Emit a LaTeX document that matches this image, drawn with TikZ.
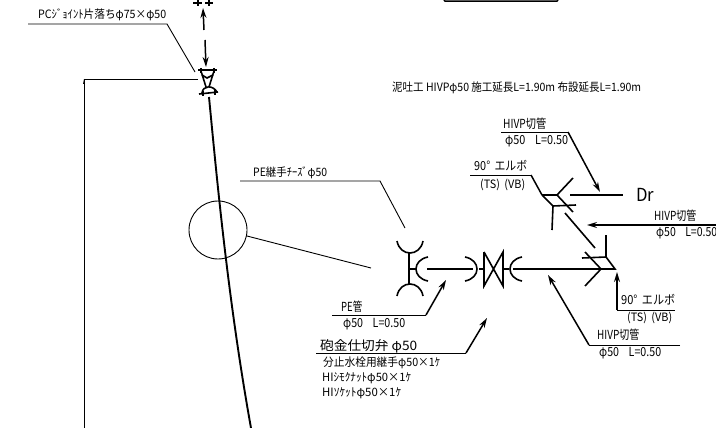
\documentclass[tikz,border=0pt]{standalone}
\usepackage{fontspec}
\usepackage{graphicx}
\setmainfont{Noto Sans CJK JP}
\usetikzlibrary{arrows.meta}
\newcommand{\fitw}[2]{\resizebox{#1pt}{\height}{#2}}
\newcommand{\gap}{\hspace{0.9em}}
\tikzset{
  lbl/.style={anchor=west,inner sep=0pt,font=\fontsize{12.5}{13}\selectfont},
  small/.style={anchor=west,inner sep=0pt,font=\fontsize{11.5}{12}\selectfont},
  thinl/.style={line width=0.9pt},
  pipe/.style={line width=1.6pt},
  arr/.style={line width=1.5pt,-{Stealth[length=10pt,width=6pt]}}
}
\begin{document}
\begin{tikzpicture}[x=1pt,y=-1pt]
\useasboundingbox (0,0) rectangle (716,428);
\fill[white] (0,0) rectangle (716,428);
% Labels
\node[small] (tjoint) at (38,15) {\fitw{128}{PCｼﾞｮｲﾝﾄ片落ちφ75×φ50}};
\node[small] (tpe) at (253,173) {\fitw{74}{PE継手ﾁｰｽﾞφ50}};
\node[small] (ttitle) at (392,88) {\fitw{249}{泥吐工 HIVPφ50 施工延長L=1.90m 布設延長L=1.90m}};
\node[lbl] (thv1) at (503,124) {\fitw{43}{HIVP切管}};
\node[lbl] (thv1b) at (505,141) {\fitw{63}{φ50\gap L=0.50}};
\node[lbl] (tel1) at (474,166) {\fitw{53}{90°\hspace{0.4em}エルボ}};
\node[small] (tel1b) at (480,184.5) {\fitw{45}{(TS)\hspace{0.4em}(VB)}};
\node[anchor=west,inner sep=0pt,font=\fontsize{18}{18}\selectfont] (tdr) at (636,195) {\fitw{18}{Dr}};
\node[lbl] (thv2) at (654,216) {\fitw{42}{HIVP切管}};
\node[lbl] (thv2b) at (656,233) {\fitw{61}{φ50\gap L=0.50}};
\node[lbl] (tel2) at (621,300) {\fitw{54}{90°\hspace{0.4em}エルボ}};
\node[small] (tel2b) at (627,318) {\fitw{45}{(TS)\hspace{0.4em}(VB)}};
\node[lbl] (thv3) at (597,335) {\fitw{42}{HIVP切管}};
\node[lbl] (thv3b) at (599,353) {\fitw{62}{φ50\gap L=0.50}};
\node[lbl] (tpipe) at (341,307) {\fitw{21}{PE管}};
\node[lbl] (tpipeb) at (343,324) {\fitw{62}{φ50\gap L=0.50}};
\node[anchor=west,inner sep=0pt,font=\fontsize{13}{13}\selectfont] (tval) at (320,346) {\fitw{97}{砲金仕切弁 φ50}};
\node[small] (ts1) at (323,363) {\fitw{117}{分止水栓用継手φ50×1ｹ}};
\node[small] (ts2) at (322,378) {\fitw{89}{HIｼﾓｸﾅｯﾄφ50×1ｹ}};
\node[small] (ts3) at (322,393) {\fitw{79}{HIｿｹｯﾄφ50×1ｹ}};
% Leader coordinates
\coordinate (a1) at (28,24); \coordinate (a2) at (167,24); \coordinate (a3) at (195,72);
\coordinate (b1) at (240,181); \coordinate (b2) at (380,181); \coordinate (b3) at (405,228);
% Thin leaders
\draw[thinl] (a1) -- (a2) -- (a3);
\draw[thinl] (b1) -- (b2) -- (b3);
\draw[thinl] (198,79) -- (84,79) -- (84,428);
\fill (84,79) -- (83,84) -- (85,84) -- cycle;
\draw[thinl] (218,230) circle (29);
\draw[thinl] (247,236) -- (371,268);
% Top box fragment
\draw[line width=1.4pt] (444,0) -- (445,1.2) -- (557,1.2) -- (558,0);
% Top fittings
\draw[pipe] (193,3) -- (202,3) (198,0) -- (198,6) (205,3) -- (213,3) (209,0) -- (209,6);
\draw[arr] (204,30) -- (203,8);
\draw[arr] (205,40) -- (206,67);
% Reducer
\draw[pipe] (198,70) -- (217,70) (201,68) -- (201,73) (214,68) -- (214,73);
\draw[pipe] (201,71) -- (206,87) (214,71) -- (209,87);
\draw[pipe] (202,75) -- (207,78) -- (213,75);
\draw[pipe] (202,93) .. controls (203,85) and (213,85) .. (217,92);
\draw[pipe] (199,94) -- (218,92) (203,91) -- (203,96) (215,90) -- (215,95);
% Main pipe
\draw[line width=1.9pt] (209,97) .. controls (217,180) and (228,300) .. (251,428);
% T joint
\draw[pipe] (409,253) -- (409,285) (409,269) -- (416,269);
\draw[pipe] (397,241) .. controls (400,257) and (420,257) .. (423,241);
\draw[pipe] (397,296) .. controls (400,280) and (420,280) .. (423,296);
\draw[pipe] (428,257) .. controls (412,260) and (412,278) .. (428,281);
\draw[pipe] (427,269) -- (473,269);
\draw[pipe] (465,257) .. controls (481,260) and (481,278) .. (465,281);
\draw[pipe] (479,269) -- (484,269);
% Valve
\draw[pipe] (484,252) -- (484,286) -- (503,252) -- (503,286) -- (484,252);
\draw[pipe] (503,269) -- (509,269);
\draw[pipe] (522,257) .. controls (506,260) and (506,278) .. (522,281);
\draw[pipe] (513,269) -- (601,269);
% Lower elbow
\draw[pipe] (585,252) -- (601,269) -- (585,286) (601,269) -- (615,269) -- (606,257);
\draw[pipe] (582,258) -- (606,257) -- (606,235);
\draw[pipe] (565,213) -- (595,248);
% Upper elbow
\draw[pipe] (542,195) -- (557,195) (573,178) -- (557,195) -- (573,212);
\draw[pipe] (570,195) -- (623,195);
\draw[pipe] (542,195) -- (553,206) (553,206) -- (576,205) (553,206) -- (552,230);
% Arrowed leaders
\coordinate (c1) at (501,132); \coordinate (c2) at (568,132); \coordinate (c3) at (600,192);
\draw[thinl] (c1) -- (c2);
\draw[arr] (c2) -- (c3);
\draw[thinl] (470,175) -- (531,175);
\draw[line width=1.5pt] (531,175) -- (542,195);
\draw[arr] (716,225) -- (587,225);
\draw[thinl] (617,310) -- (675,310);
\draw[arr] (617,310) -- (617,272);
\draw[thinl] (680,345) -- (589,345);
\draw[arr] (589,345) -- (548,275);
\draw[thinl] (332,315) -- (426,315);
\draw[arr] (426,315) -- (446,280);
\draw[thinl] (316,353) -- (466,353);
\draw[arr] (466,353) -- (487,318);
\draw[thinl] (716,104) -- (716,106);
\end{tikzpicture}
\end{document}
